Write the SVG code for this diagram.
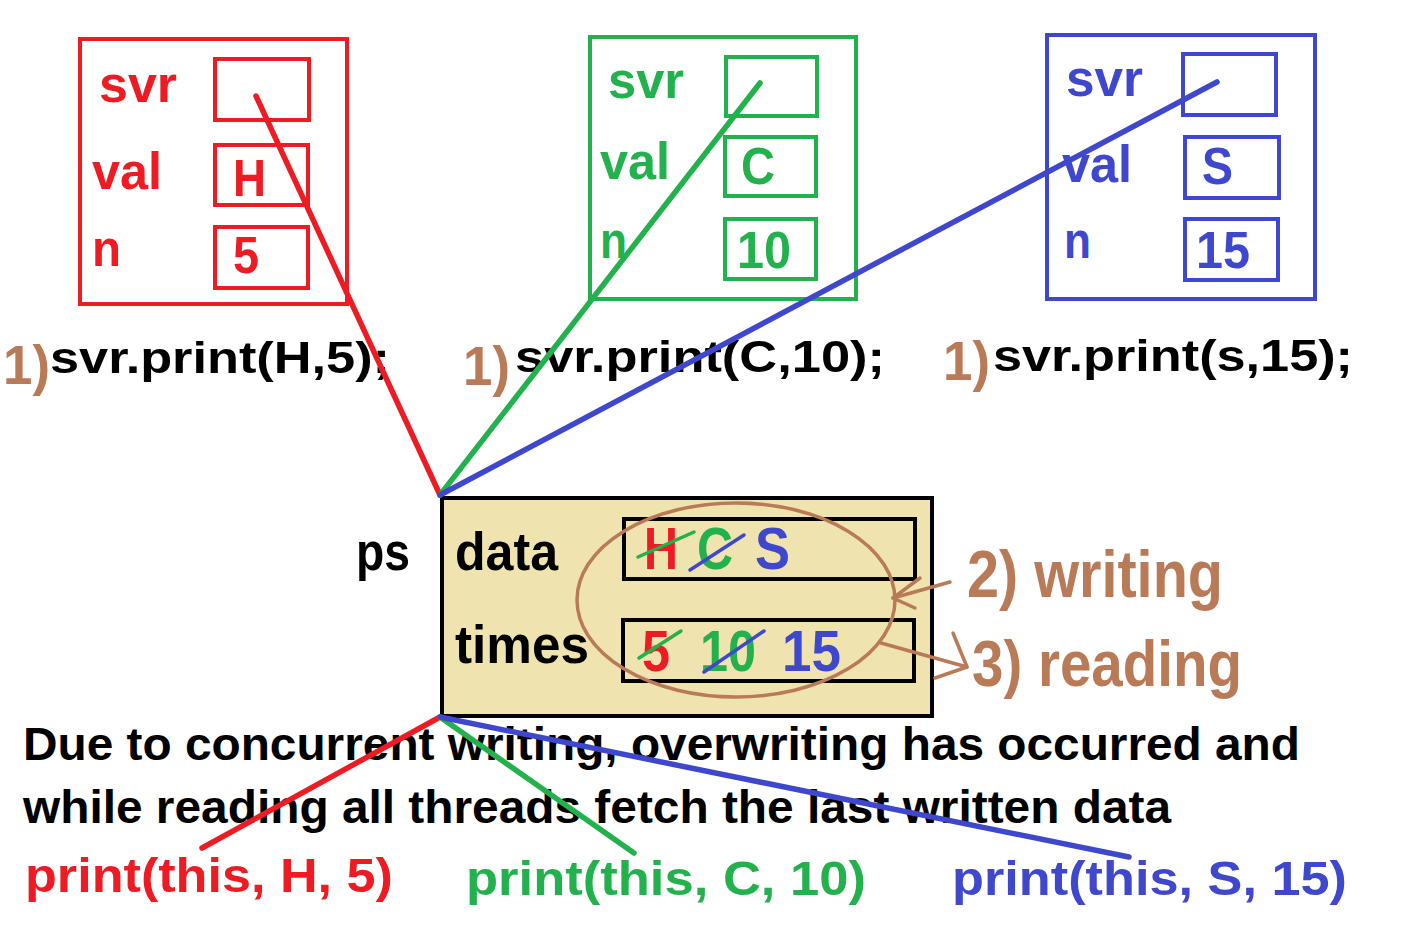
<svg xmlns="http://www.w3.org/2000/svg" width="1414" height="942" viewBox="0 0 1414 942">
<style>
text{font-family:"Liberation Sans",Arial,sans-serif;font-weight:bold}
.r{fill:#ed1c24}.g{fill:#22b14c}.b{fill:#3f48cc}.k{fill:#000}.br{fill:#b97a57}
.rb{fill:none;stroke:#ed1c24;stroke-width:4}
.gb{fill:none;stroke:#22b14c;stroke-width:4}
.bb{fill:none;stroke:#3f48cc;stroke-width:4}
.lbl{font-size:52px}
.call{font-size:45px}
.num{font-size:56px}
.ln{stroke-width:5.5;stroke-linecap:round;fill:none}
.st{stroke-width:3.5;stroke-linecap:round;fill:none}
.brs{stroke:#b97a57;stroke-width:3.5;fill:none;stroke-linecap:round;stroke-linejoin:round}
</style>
<rect width="1414" height="942" fill="#fff"/>

<g id="obj-red">
<rect class="rb" x="80" y="39" width="267" height="265"/>
<rect class="rb" x="215" y="59" width="94" height="61"/>
<rect class="rb" x="215" y="145" width="93" height="60"/>
<rect class="rb" x="215" y="227" width="93" height="61"/>
<text class="r lbl" x="99" y="102" textLength="78" lengthAdjust="spacingAndGlyphs">svr</text>
<text class="r lbl" x="92" y="189" textLength="70" lengthAdjust="spacingAndGlyphs">val</text>
<text class="r lbl" x="92" y="266" textLength="29" lengthAdjust="spacingAndGlyphs">n</text>
<text class="r lbl" x="233" y="196" textLength="33" lengthAdjust="spacingAndGlyphs">H</text>
<text class="r lbl" x="233" y="273" textLength="26" lengthAdjust="spacingAndGlyphs">5</text>
</g>

<g id="obj-green">
<rect class="gb" x="590" y="37" width="266" height="262"/>
<rect class="gb" x="726" y="57" width="91" height="59"/>
<rect class="gb" x="725" y="137" width="91" height="59"/>
<rect class="gb" x="725" y="219" width="91" height="60"/>
<text class="g lbl" x="608" y="98" textLength="76" lengthAdjust="spacingAndGlyphs">svr</text>
<text class="g lbl" x="600" y="179" textLength="70" lengthAdjust="spacingAndGlyphs">val</text>
<text class="g lbl" x="600" y="258" textLength="27" lengthAdjust="spacingAndGlyphs">n</text>
<text class="g lbl" x="741" y="184" textLength="34" lengthAdjust="spacingAndGlyphs">C</text>
<text class="g lbl" x="737" y="268" textLength="54" lengthAdjust="spacingAndGlyphs">10</text>
</g>

<g id="obj-blue">
<rect class="bb" x="1047" y="35" width="268" height="264"/>
<rect class="bb" x="1183" y="54" width="93" height="61"/>
<rect class="bb" x="1185" y="137" width="94" height="61"/>
<rect class="bb" x="1185" y="219" width="93" height="61"/>
<text class="b lbl" x="1066" y="96" textLength="77" lengthAdjust="spacingAndGlyphs">svr</text>
<text class="b lbl" x="1062" y="182" textLength="70" lengthAdjust="spacingAndGlyphs">val</text>
<text class="b lbl" x="1064" y="258" textLength="27" lengthAdjust="spacingAndGlyphs">n</text>
<text class="b lbl" x="1202" y="184" textLength="31" lengthAdjust="spacingAndGlyphs">S</text>
<text class="b lbl" x="1196" y="268" textLength="54" lengthAdjust="spacingAndGlyphs">15</text>
</g>

<g id="calls">
<text class="br num" x="3" y="384" textLength="47" lengthAdjust="spacingAndGlyphs">1)</text>
<text class="k call" x="50" y="373" textLength="340" lengthAdjust="spacingAndGlyphs">svr.print(H,5);</text>
<text class="br num" x="463" y="385" textLength="47" lengthAdjust="spacingAndGlyphs">1)</text>
<text class="k call" x="515" y="372" textLength="370" lengthAdjust="spacingAndGlyphs">svr.print(C,10);</text>
<text class="br num" x="943" y="380" textLength="47" lengthAdjust="spacingAndGlyphs">1)</text>
<text class="k call" x="993" y="371" textLength="360" lengthAdjust="spacingAndGlyphs">svr.print(s,15);</text>
</g>

<g id="ps">
<rect x="442" y="498" width="490" height="218" fill="#efe4b0" stroke="#000" stroke-width="4"/>
<rect x="624" y="519" width="291" height="60" fill="none" stroke="#000" stroke-width="4"/>
<rect x="623" y="620" width="291" height="61" fill="none" stroke="#000" stroke-width="4"/>
<text class="k" font-size="53" x="356" y="570" textLength="54" lengthAdjust="spacingAndGlyphs">ps</text>
<text class="k" font-size="53" x="455" y="570" textLength="103" lengthAdjust="spacingAndGlyphs">data</text>
<text class="k" font-size="53" x="455" y="663" textLength="134" lengthAdjust="spacingAndGlyphs">times</text>
<text class="r" font-size="59" x="644" y="569" textLength="34" lengthAdjust="spacingAndGlyphs">H</text>
<text class="g" font-size="59" x="697" y="569" textLength="36" lengthAdjust="spacingAndGlyphs">C</text>
<text class="b" font-size="59" x="755" y="569" textLength="35" lengthAdjust="spacingAndGlyphs">S</text>
<text class="r" font-size="57" x="642" y="671" textLength="28" lengthAdjust="spacingAndGlyphs">5</text>
<text class="g" font-size="57" x="700" y="671" textLength="56" lengthAdjust="spacingAndGlyphs">10</text>
<text class="b" font-size="57" x="782" y="671" textLength="59" lengthAdjust="spacingAndGlyphs">15</text>
<line class="st" stroke="#22b14c" x1="638" y1="557" x2="694" y2="532"/>
<line class="st" stroke="#3f48cc" x1="690" y1="570" x2="744" y2="535"/>
<line class="st" stroke="#22b14c" x1="639" y1="658" x2="681" y2="631"/>
<line class="st" stroke="#3f48cc" x1="704" y1="672" x2="764" y2="631"/>
<ellipse class="brs" cx="736" cy="600" rx="159" ry="97"/>
</g>

<g id="steps">
<text class="br" font-size="66" x="967" y="597" textLength="256" lengthAdjust="spacingAndGlyphs">2) writing</text>
<text class="br" font-size="64" x="972" y="686" textLength="270" lengthAdjust="spacingAndGlyphs">3) reading</text>
</g>

<g id="note">
<text class="k" font-size="46" x="23" y="760" textLength="1277" lengthAdjust="spacingAndGlyphs">Due to concurrent writing, overwriting has occurred and</text>
<text class="k" font-size="46" x="23" y="823" textLength="1148" lengthAdjust="spacingAndGlyphs">while reading all threads fetch the last written data</text>
</g>

<g id="threads">
<text class="r" font-size="49" x="25" y="892" textLength="368" lengthAdjust="spacingAndGlyphs">print(this, H, 5)</text>
<text class="g" font-size="49" x="466" y="895" textLength="400" lengthAdjust="spacingAndGlyphs">print(this, C, 10)</text>
<text class="b" font-size="49" x="952" y="895" textLength="395" lengthAdjust="spacingAndGlyphs">print(this, S, 15)</text>
</g>

<g id="connectors">
<line class="ln" stroke="#ed1c24" x1="256" y1="96" x2="440" y2="495"/>
<line class="ln" stroke="#22b14c" x1="760" y1="83" x2="440" y2="495"/>
<line class="ln" stroke="#3f48cc" x1="1217" y1="82" x2="440" y2="495"/>
<line class="ln" stroke="#ed1c24" x1="440" y1="717" x2="202" y2="848"/>
<line class="ln" stroke="#22b14c" x1="440" y1="717" x2="634" y2="853"/>
<line class="ln" stroke="#3f48cc" x1="440" y1="717" x2="1129" y2="857"/>
<polyline class="brs" points="950,582 893,598"/>
<polyline class="brs" points="920,578 893,598 915,608"/>
<polyline class="brs" points="881,643 967,667"/>
<polyline class="brs" points="953,633 967,667 935,678"/>
</g>
</svg>
